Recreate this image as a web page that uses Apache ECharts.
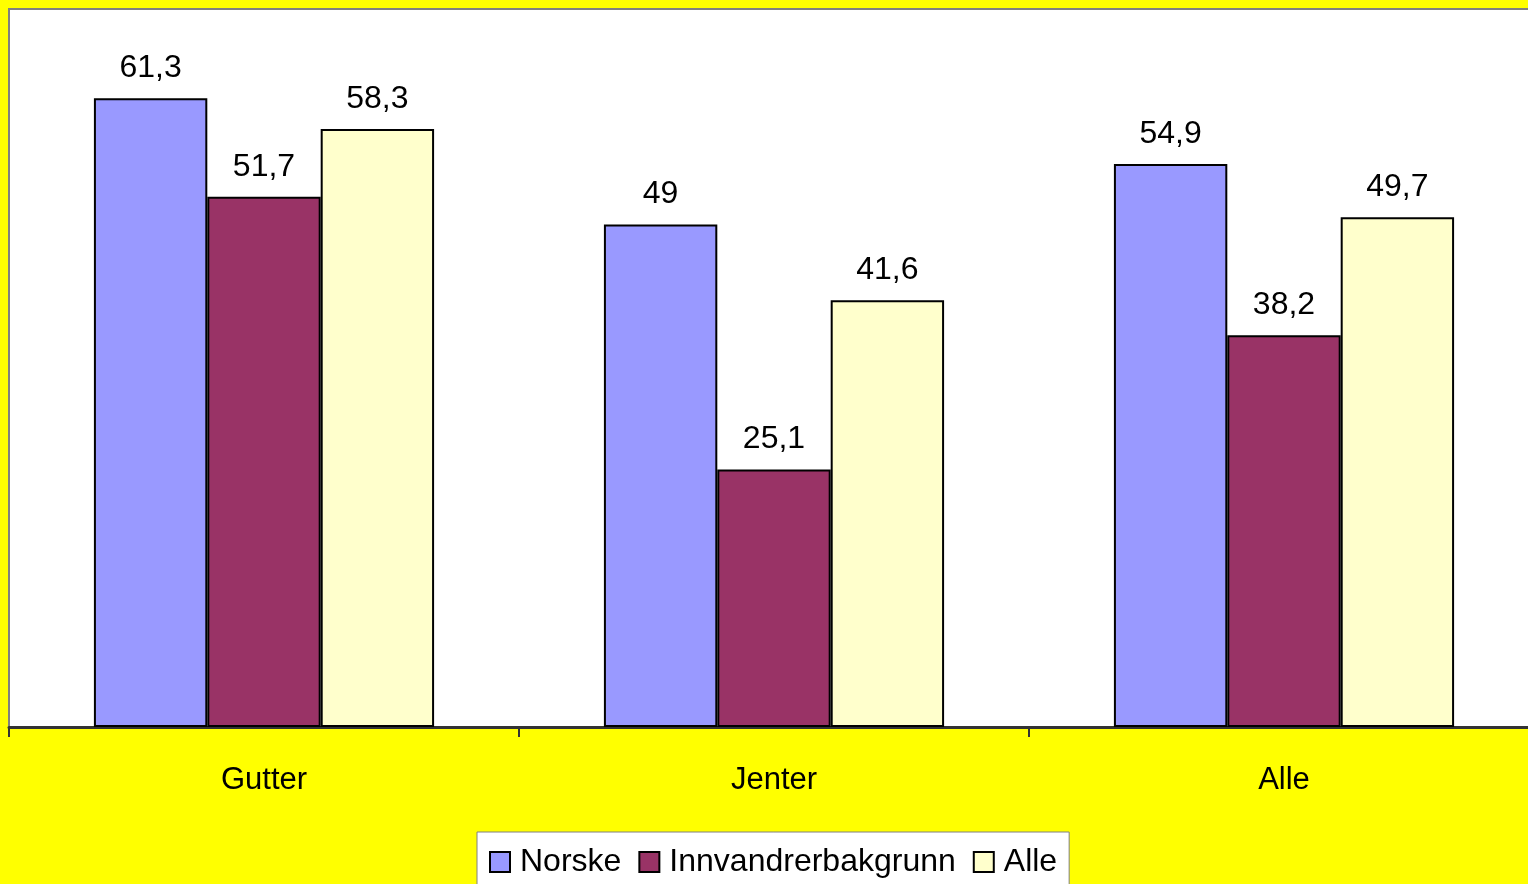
<!DOCTYPE html>
<html><head><meta charset="utf-8">
<script src="https://cdn.jsdelivr.net/npm/echarts@6/dist/echarts.min.js"></script>
<style>html,body{margin:0;padding:0;background:#FFFF00;overflow:hidden;width:1528px;height:884px;}#c{width:1539px;height:884px;}</style>
</head><body><div id="c"></div>
<script>
const categories = ['Gutter', 'Jenter', 'Alle'];
const seriesNames = ['Norske', 'Innvandrerbakgrunn', 'Alle'];
const norske = [61.3, 49, 54.9];
const innvandrerbakgrunn = [51.7, 25.1, 38.2];
const alle = [58.3, 41.6, 49.7];
const colors = ['#9999FF', '#993366', '#FFFFCC'];

const chart = echarts.init(document.getElementById('c'));
const font = 'Liberation Sans, Arial, sans-serif';
const mk = (name, data, color) => ({
  name, type: 'bar', data,
  barGap: '0%', barCategoryGap: '33.3%',
  itemStyle: { color, borderColor: '#000', borderWidth: 2 },
  label: { show: true, position: 'top', distance: 14, color: '#000', fontFamily: font, fontSize: 32,
    formatter: p => String(p.value).replace('.', ',') }
});
chart.setOption({
  backgroundColor: '#FFFF00',
  animation: false,
  grid: { left: 9, top: 9, right: 0, bottom: 157, show: true, backgroundColor: '#FFFFFF', borderColor: '#808080', borderWidth: 2 },
  xAxis: { type: 'category', data: categories,
    axisLine: { lineStyle: { color: '#333', width: 3 } },
    axisTick: { show: true, length: 10, lineStyle: { color: '#333', width: 2 } },
    axisLabel: { color: '#000', fontFamily: font, fontSize: 31, margin: 38 } },
  yAxis: { type: 'value', min: 0, max: 70, show: false, splitLine: { show: false } },
  legend: { top: 832, left: 477, data: seriesNames, backgroundColor: '#FFFFFF', borderColor: '#808080', borderWidth: 1,
    padding: [14, 12, 30, 12], itemGap: 17, itemWidth: 20, itemHeight: 20,
    textStyle: { color: '#000', fontFamily: font, fontSize: 32, padding: [0, 0, 0, 5] },
    itemStyle: { borderColor: '#000', borderWidth: 2 }, icon: 'rect' },
  series: [mk(seriesNames[0], norske, colors[0]), mk(seriesNames[1], innvandrerbakgrunn, colors[1]), mk(seriesNames[2], alle, colors[2])]
});
</script></body></html>
